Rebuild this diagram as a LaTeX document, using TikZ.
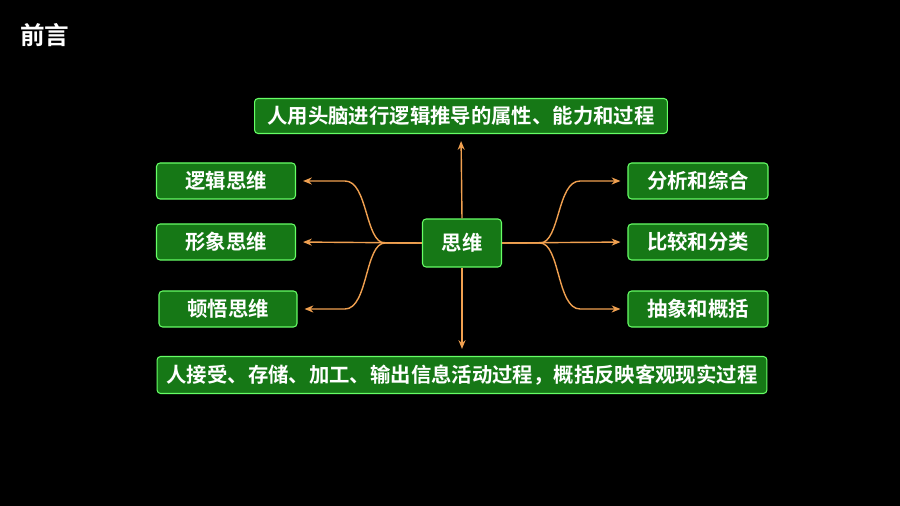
\documentclass[tikz,border=0pt]{standalone}
\usepackage{fontspec}
\setmainfont{Noto Sans CJK SC Bold}
\usetikzlibrary{arrows.meta}
\definecolor{boxgreen}{RGB}{22,120,22}
\definecolor{arrorange}{RGB}{240,160,80}
\tikzset{
  box/.style={draw=green!60!white, line width=0.6pt, fill=boxgreen, rounded corners=2pt, text=white, font=\fontsize{11.6}{13}\selectfont, inner sep=0pt},
  arr/.style={draw=arrorange, line width=0.8pt, -{Stealth[length=5pt,width=4pt]}, shorten >=4pt},
}
\begin{document}
\begin{tikzpicture}[x=0.02cm,y=-0.02cm]
\fill[black] (0,0) rectangle (900,506);
\useasboundingbox (0,0) rectangle (900,506);
\node[text=white, font=\fontsize{14}{16}\selectfont] (title) at (45,35) {前言};
\node[box, minimum width=8.26cm, minimum height=0.7cm] (top) at (461,116) {人用头脑进行逻辑推导的属性、能力和过程};
\node[box, minimum width=1.58cm, minimum height=0.96cm] (c) at (462,243) {思维};
\node[box, minimum width=2.78cm, minimum height=0.72cm] (l1) at (226,181) {逻辑思维};
\node[box, minimum width=2.78cm, minimum height=0.72cm] (l2) at (226,242) {形象思维};
\node[box, minimum width=2.76cm, minimum height=0.72cm] (l3) at (228,309) {顿悟思维};
\node[box, minimum width=2.8cm, minimum height=0.72cm] (r1) at (698,181) {分析和综合};
\node[box, minimum width=2.8cm, minimum height=0.72cm] (r2) at (698,242) {比较和分类};
\node[box, minimum width=2.8cm, minimum height=0.72cm] (r3) at (698,309) {抽象和概括};
\node[box, minimum width=12.2cm, minimum height=0.74cm] (bot) at (462,375) {人接受、存储、加工、输出信息活动过程，概括反映客观现实过程};
% connectors
\draw[arr] (c.north) -- (top.south);
\draw[arr] (c.south) -- (bot.north);
\draw[arr] (c.west) -- (385,243) .. controls (365,243) and (368,181) .. (345,181) -- (l1.east);
\draw[arr] (c.west) -- (l2.east);
\draw[arr] (c.west) -- (385,243) .. controls (365,243) and (368,309) .. (345,309) -- (l3.east);
\draw[arr] (c.east) -- (540,243) .. controls (560,243) and (557,181) .. (580,181) -- (r1.west);
\draw[arr] (c.east) -- (r2.west);
\draw[arr] (c.east) -- (540,243) .. controls (560,243) and (557,309) .. (580,309) -- (r3.west);
\end{tikzpicture}
\end{document}
